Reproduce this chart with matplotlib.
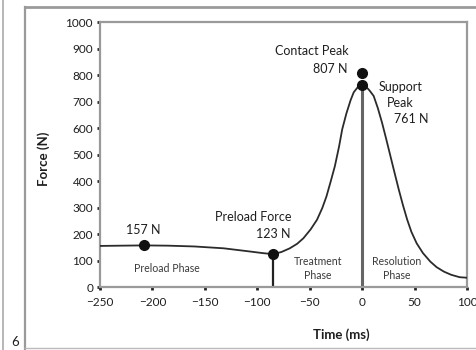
import matplotlib
matplotlib.use("Agg")
import matplotlib.pyplot as plt
from matplotlib.lines import Line2D

plt.rcParams['font.family'] = ['Lato', 'DejaVu Sans']

# force curve readings (time in ms, force in N)
time_ms = [-250, -230, -208, -185, -160, -132, -107, -95, -85, -77, -69, -62, -56,
           -49, -43, -38, -34, -30, -26, -22, -19, -15, -11, -8, -4, 0,
           4, 7, 11, 15, 19, 23, 27, 31, 35, 39, 43, 47, 52, 58, 65, 71, 78, 85, 93, 100]
force_n = [155, 156, 157, 156, 153, 146, 134, 128, 124, 132, 146, 163, 184,
           218, 254, 298, 342, 398, 456, 530, 595, 655, 705, 735, 755, 761,
           755, 742, 721, 675, 620, 558, 494, 430, 367, 308, 254, 208, 165, 128, 96, 75, 58, 46, 37, 35]

preload_pt = (-208, 157)
preload_force = (-85, 123)
contact_peak = (0, 807)
support_peak = (0, 761)

x_ticks = [-250, -200, -150, -100, -50, 0, 50, 100]
y_ticks = list(range(0, 1001, 100))

fig = plt.figure(figsize=(4.77, 3.5), dpi=100)
ax = fig.add_axes([0.2096, 0.18, 0.7694, 0.757])

ink = '#1e1e1e'
ax.plot(time_ms, force_n, color='#2b2b2b', lw=1.3, zorder=3)
ax.plot([preload_force[0]] * 2, [0, preload_force[1]], color='#222222', lw=1.6, zorder=2)
ax.plot([support_peak[0]] * 2, [0, support_peak[1]], color='#666666', lw=2.2, zorder=2)

for pt in (preload_pt, preload_force, contact_peak, support_peak):
    ax.plot(*pt, 'o', color='#111111', ms=7, zorder=4)

ax.set_xlim(-250, 100)
ax.set_ylim(0, 1000)
ax.set_xticks(x_ticks)
ax.set_xticklabels([str(v).replace('-', '\u2212') for v in x_ticks])
ax.set_yticks(y_ticks)
for s in ax.spines.values():
    s.set_color('#9a9a9a')
    s.set_linewidth(1.6)
ax.tick_params(axis='both', length=2.5, width=2, color='#222222', labelsize=8.5,
               labelcolor=ink)
ax.tick_params(axis='x', pad=4.5)
ax.tick_params(axis='y', pad=2.5)

ax.set_xlabel('Time (ms)', fontsize=9.5, fontweight='bold', color=ink)
ax.xaxis.set_label_coords(0.657, -0.155)
ax.set_ylabel('Force (N)', fontsize=9.5, fontweight='bold', color=ink)
ax.yaxis.set_label_coords(-0.135, 0.485)

lab = dict(fontsize=9, color=ink, va='center')
ax.text(-13, 890, 'Contact Peak', ha='right', **lab)
ax.text(-14, 822, '807 N', ha='right', **lab)
ax.text(16, 754, 'Support', ha='left', **lab)
ax.text(24, 693, 'Peak', ha='left', **lab)
ax.text(63, 633, '761 N', ha='right', **lab)
ax.text(-209, 216, '157 N', ha='center', **lab)
ax.text(-67, 265, 'Preload Force', ha='right', **lab)
ax.text(-68.5, 201, '123 N', ha='right', **lab)

small = dict(fontsize=7.6, color='#3a3a3a', ha='center', va='center')
ax.text(-186, 68, 'Preload Phase', **small)
ax.text(-42, 95, 'Treatment', **small)
ax.text(-42, 42, 'Phase', **small)
ax.text(33, 95, 'Resolution', **small)
ax.text(33, 42, 'Phase', **small)

# panel frame and figure number
W, H = 477, 350
def fx(p):
    return p / W
def fy(p):
    return 1 - p / H
frame = '#9a9a9a'
fig.add_artist(Line2D([fx(25), fx(25)], [fy(7), fy(349)], color=frame, lw=1.6))
fig.add_artist(Line2D([fx(25), 1.0], [fy(7), fy(7)], color=frame, lw=2.0))
fig.add_artist(Line2D([fx(25), 1.0], [fy(348), fy(348)], color='#bbbbbb', lw=1.0))
fig.add_artist(Line2D([fx(3), fx(3)], [0, 1], color='#aaaaaa', lw=1.2))
fig.text(fx(15), fy(342), '6', fontsize=9.5, color=ink, ha='center', va='center')

fig.savefig('out.png', dpi=100)
